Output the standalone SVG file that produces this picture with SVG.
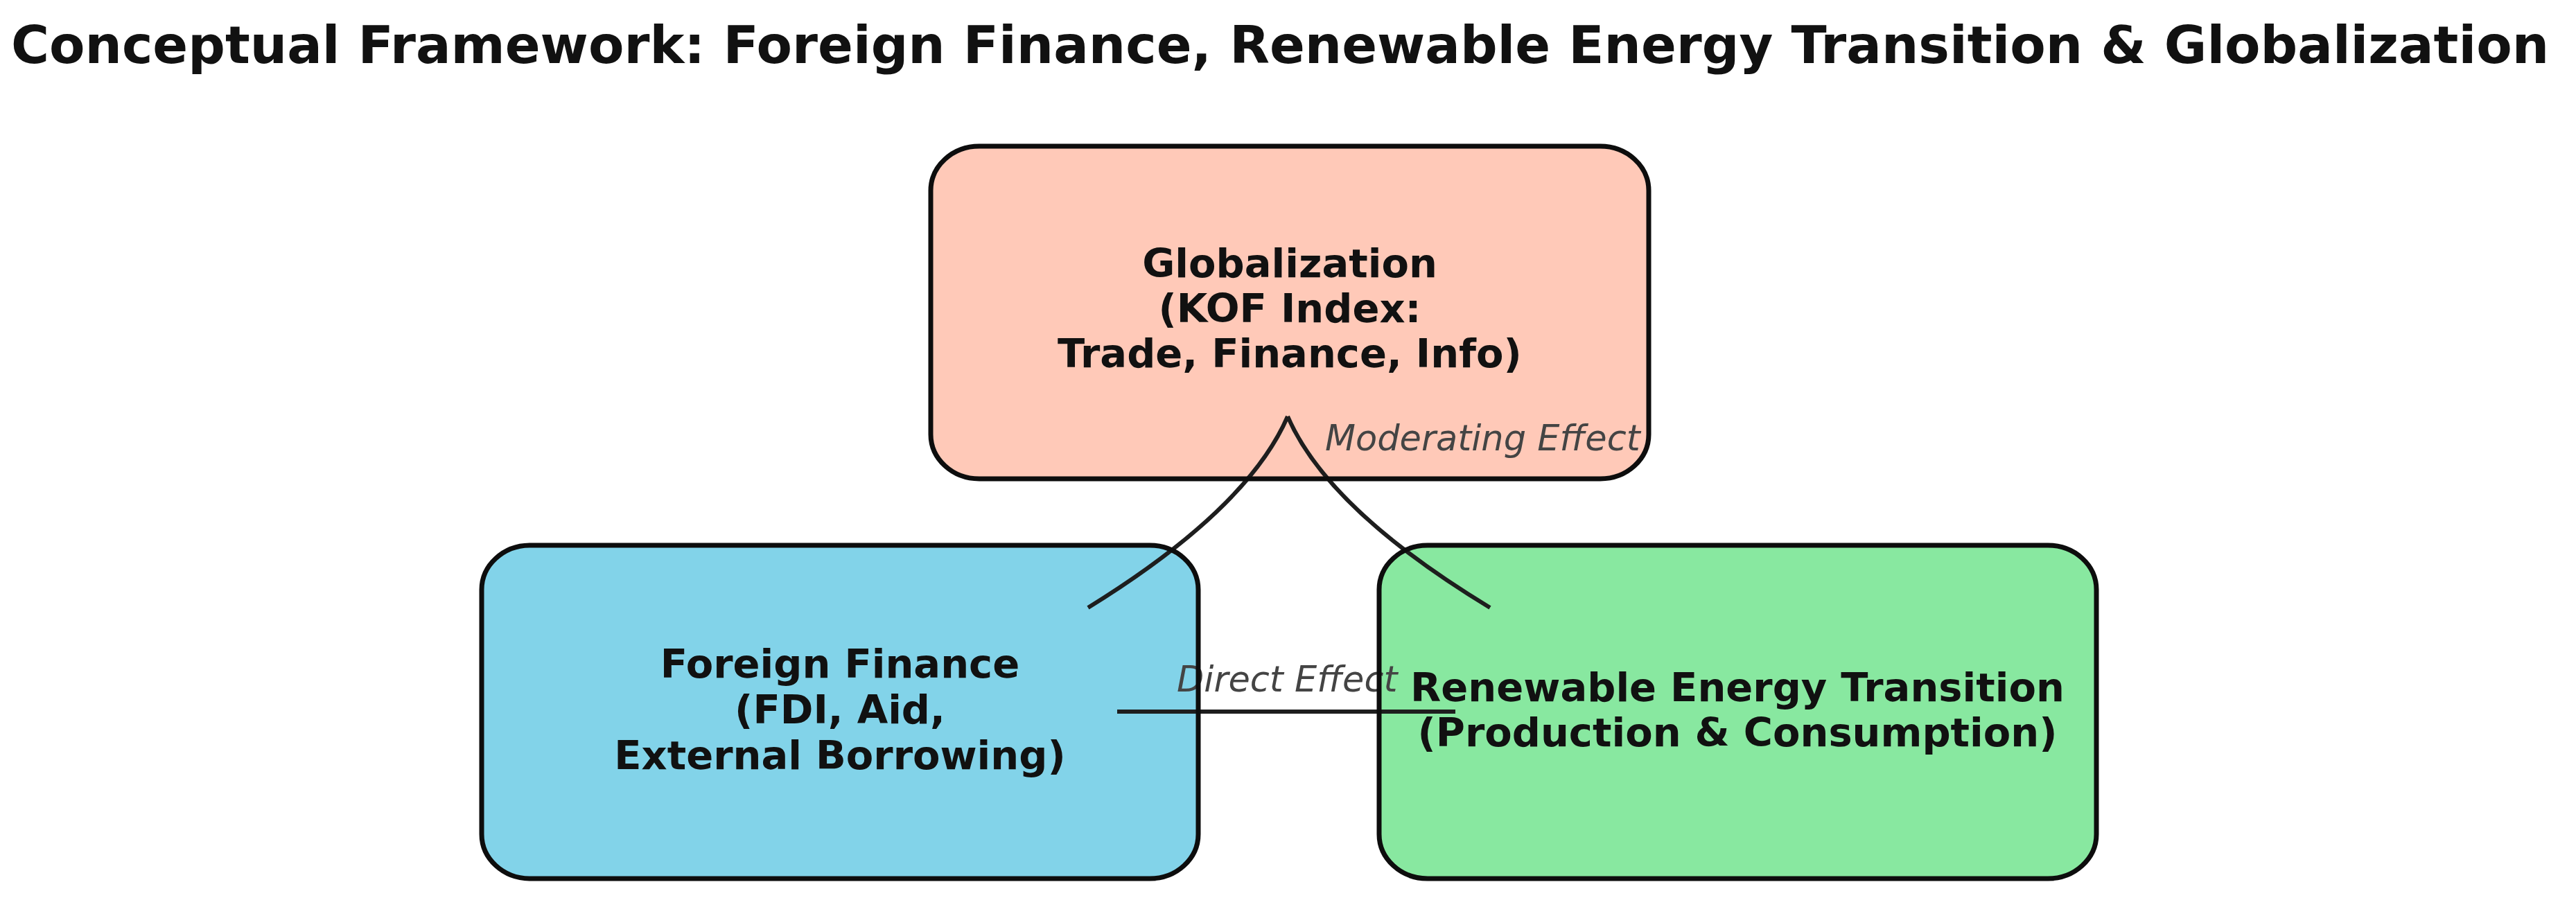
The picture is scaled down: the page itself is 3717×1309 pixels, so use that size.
<svg xmlns="http://www.w3.org/2000/svg" width="3717" height="1309" viewBox="0 0 3717 1309">
  <style>
    .title { font-family: "DejaVu Sans", "Liberation Sans", sans-serif; font-weight: bold; font-size: 75px; fill: #111111; }
    .node-text { font-family: "DejaVu Sans", "Liberation Sans", sans-serif; font-weight: bold; font-size: 57.5px; fill: #111111; text-anchor: middle; }
    .edge-label { font-family: "DejaVu Sans", "Liberation Sans", sans-serif; font-style: italic; font-size: 51px; fill: #444444; }
    .edge { fill: none; stroke: #1e1e1e; stroke-width: 6; stroke-linecap: butt; }
    .outline { fill: none; stroke: #0d0d0d; stroke-width: 7; }
  </style>
  <rect x="0" y="0" width="3717" height="1309" fill="#ffffff"/>
  <text class="title" x="1847" y="91" text-anchor="middle">Conceptual Framework: Foreign Finance, Renewable Energy Transition &amp; Globalization</text>

  <g id="node-globalization">
    <rect x="1343" y="211" width="1036" height="480" rx="70" ry="64" fill="#FFC9B8"/>
    <text class="node-text" x="1861" y="400">Globalization</text>
    <text class="node-text" x="1861" y="465">(KOF Index:</text>
    <text class="node-text" x="1861" y="530">Trade, Finance, Info)</text>
  </g>

  <g id="node-foreign-finance">
    <rect x="695" y="787" width="1034" height="481" rx="70" ry="64" fill="#82D3E9"/>
    <text class="node-text" x="1212" y="978">Foreign Finance</text>
    <text class="node-text" x="1212" y="1044">(FDI, Aid,</text>
    <text class="node-text" x="1212" y="1110">External Borrowing)</text>
  </g>

  <g id="node-renewable">
    <rect x="1990" y="787" width="1035" height="481" rx="70" ry="64" fill="#88E8A0"/>
    <text class="node-text" x="2507" y="1012">Renewable Energy Transition</text>
    <text class="node-text" x="2507" y="1077">(Production &amp; Consumption)</text>
  </g>

  <g id="connectors">
    <path class="edge" d="M 1570 877 Q 1800 735 1858 601"/>
    <path class="edge" d="M 2150 877 Q 1916 735 1858 601"/>
    <text class="edge-label" x="1912" y="650">Moderating Effect</text>
    <path class="edge" d="M 1612 1027 L 2100 1027"/>
    <text class="edge-label" x="1698" y="998">Direct Effect</text>
  </g>

  <g id="node-outlines">
    <rect class="outline" x="1343" y="211" width="1036" height="480" rx="70" ry="64"/>
    <rect class="outline" x="695" y="787" width="1034" height="481" rx="70" ry="64"/>
    <rect class="outline" x="1990" y="787" width="1035" height="481" rx="70" ry="64"/>
  </g>
</svg>
